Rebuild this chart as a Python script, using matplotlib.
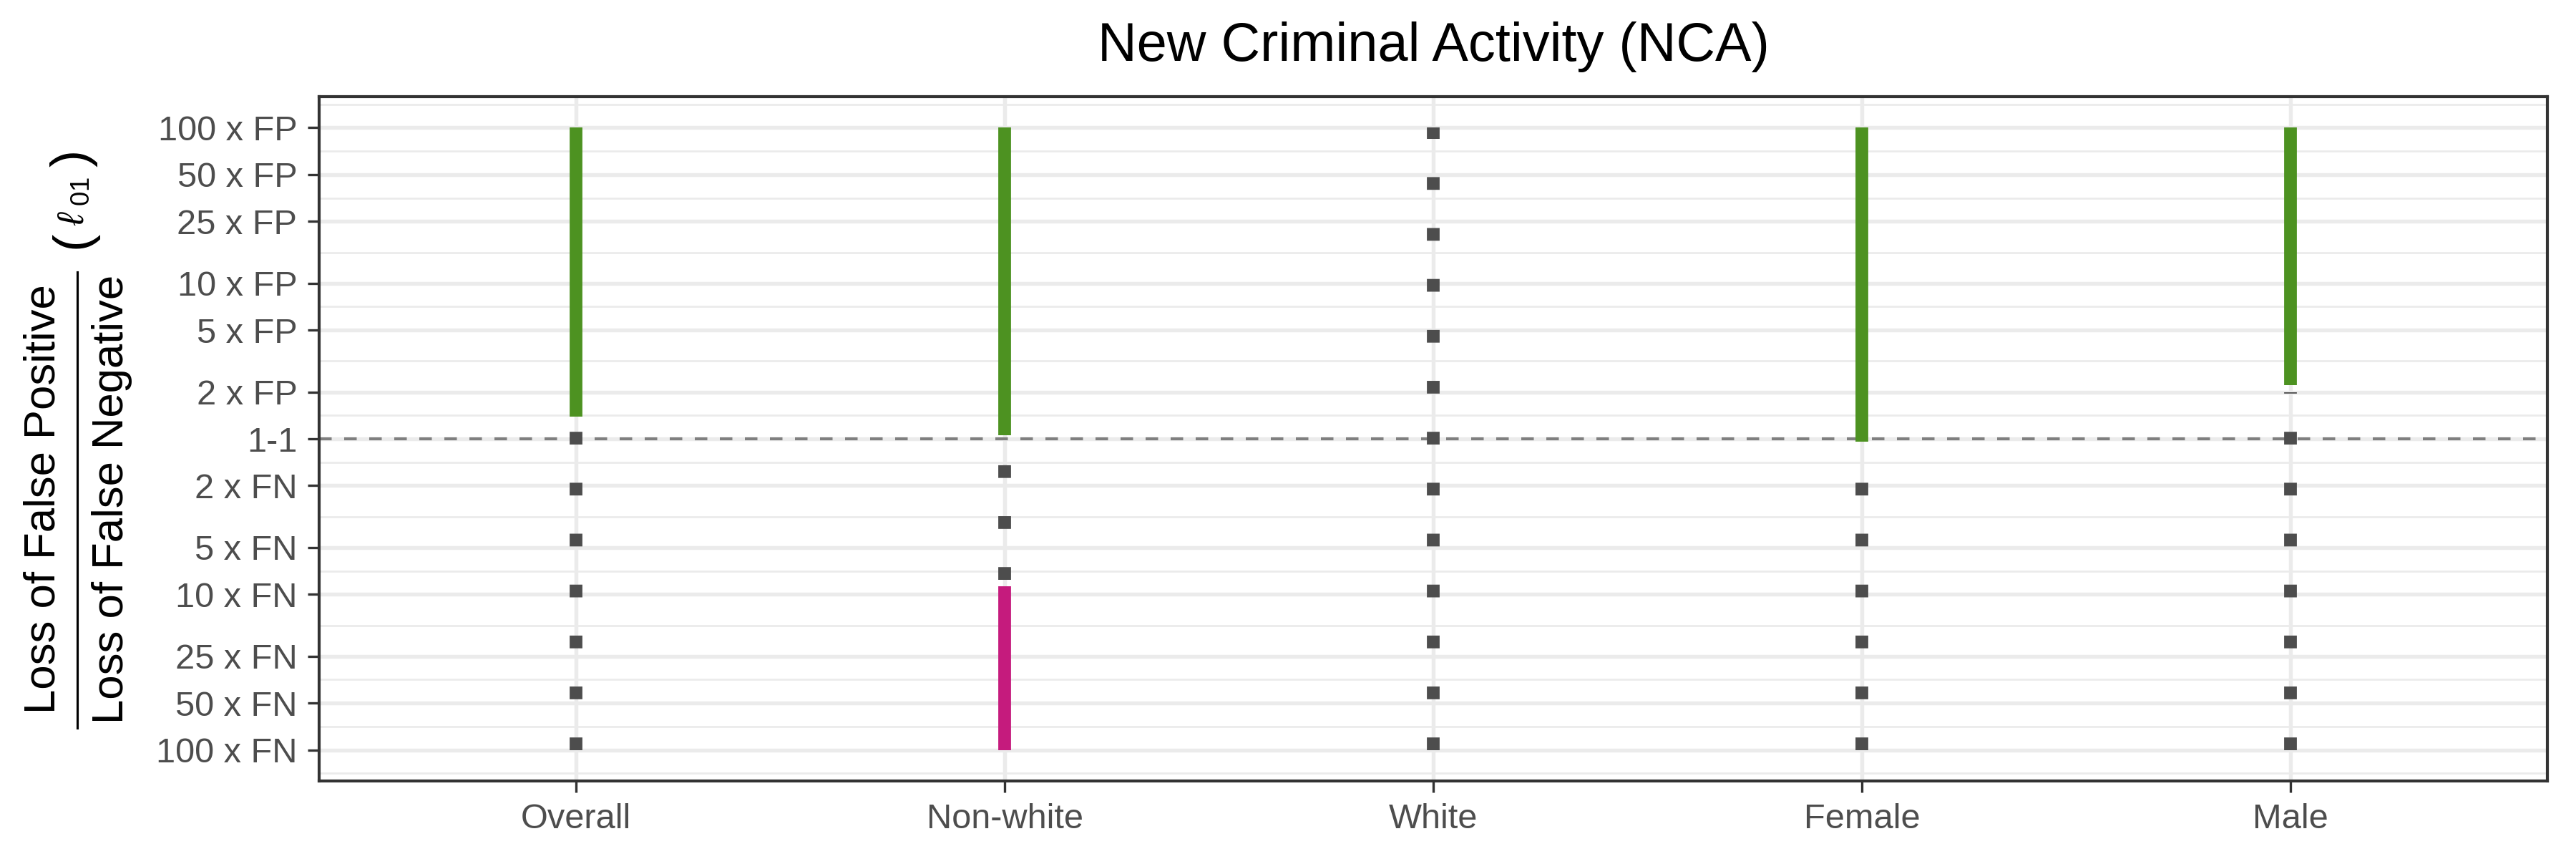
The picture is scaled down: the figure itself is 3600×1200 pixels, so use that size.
import numpy as np
import matplotlib
matplotlib.use("Agg")
import matplotlib.pyplot as plt
from matplotlib.lines import Line2D
from matplotlib.ticker import FixedLocator, NullFormatter

plt.rcParams['font.family'] = ['Liberation Sans', 'DejaVu Sans']
plt.rcParams['mathtext.fontset'] = 'custom'
plt.rcParams['mathtext.rm'] = 'Liberation Sans'
plt.rcParams['mathtext.it'] = 'Liberation Sans:italic'
plt.rcParams['mathtext.fallback'] = 'stixsans'

# ratio = loss(FP) / loss(FN)
groups = ["Overall", "Non-white", "White", "Female", "Male"]
green_lo = [1.39, 1.06, np.nan, 0.962, 2.21]
green_hi = [100, 100, np.nan, 100, 100]
pink_lo = [np.nan, 0.01, np.nan, np.nan, np.nan]
pink_hi = [np.nan, 0.113, np.nan, np.nan, np.nan]
grey_lo = [0.01, 0.124, 0.01, 0.01, 0.01]
grey_hi = [1.27, 0.962, 100, 0.877, 2.0]

tick_vals = [100, 50, 25, 10, 5, 2, 1, 1/2, 1/5, 1/10, 1/25, 1/50, 1/100]
tick_labels = ["100 x FP", "50 x FP", "25 x FP", "10 x FP", "5 x FP", "2 x FP", "1-1",
               "2 x FN", "5 x FN", "10 x FN", "25 x FN", "50 x FN", "100 x FN"]

W, H = 3600, 1200
fig = plt.figure(figsize=(12, 4), dpi=300)
ax = fig.add_axes([0.1239, 0.0908, 0.865, 0.7967])
ax.set_yscale('log')
ax.set_ylim(100 ** -1.1, 100 ** 1.1)
ax.set_xlim(0.4, 5.6)

# gridlines (major at breaks, minor half-way between, ggplot style)
lt = np.sort(np.log(tick_vals))
mids = (lt[:-1] + lt[1:]) / 2
mids = np.concatenate([[lt[0] - (lt[1] - lt[0]) / 2], mids, [lt[-1] + (lt[-1] - lt[-2]) / 2]])
ax.yaxis.set_major_locator(FixedLocator(tick_vals))
ax.set_yticklabels(tick_labels)
ax.yaxis.set_minor_locator(FixedLocator(np.exp(mids)))
ax.yaxis.set_minor_formatter(NullFormatter())
ax.set_xticks(range(1, len(groups) + 1))
ax.set_xticklabels(groups)

ax.set_axisbelow(True)
ax.grid(which='major', color='#EBEBEB', lw=1.3)
ax.grid(which='minor', axis='y', color='#EBEBEB', lw=0.65)

ax.axhline(1, color='#7F7F7F', lw=1.0, linestyle=(0, (4.2, 4.2)), zorder=1.5)

lw = 4.27
for i, g in enumerate(groups):
    x = i + 1
    if not np.isnan(grey_lo[i]):
        ax.plot([x, x], [grey_lo[i], grey_hi[i]], color='#4D4D4D', lw=lw,
                linestyle=(0, (1, 3)), dash_capstyle='butt', zorder=2)
    if not np.isnan(green_lo[i]):
        ax.plot([x, x], [green_lo[i], green_hi[i]], color='#4D9221', lw=lw,
                solid_capstyle='butt', zorder=3)
    if not np.isnan(pink_lo[i]):
        ax.plot([x, x], [pink_lo[i], pink_hi[i]], color='#C51B7D', lw=lw,
                solid_capstyle='butt', zorder=3)

ax.tick_params(axis='both', which='major', length=3.84, width=0.8, color='#333333',
               labelcolor='#4D4D4D', labelsize=11.7, pad=3.5)
ax.tick_params(axis='y', which='minor', length=0)
for s in ax.spines.values():
    s.set_color('#333333')
    s.set_linewidth(1.0)

ax.set_title("New Criminal Activity (NCA)", fontsize=18.2, pad=12)

# y label: fraction + (l_01), built from pieces (pixel positions / figure size)
fy = 1 - 697 / H
fig.text(77 / W, fy, "Loss of False Positive", rotation=90, rotation_mode='anchor',
         ha='center', va='baseline', fontsize=14.8)
fig.text(172 / W, fy, "Loss of False Negative", rotation=90, rotation_mode='anchor',
         ha='center', va='baseline', fontsize=14.8)
fig.add_artist(Line2D([108 / W, 108 / W], [1 - 380 / H, 1 - 1017 / H],
                      color='black', lw=0.75, transform=fig.transFigure))
fig.text(117 / W, 1 - 281 / H, r"$\ell_{\ 01}$", rotation=90, rotation_mode='anchor',
         ha='center', va='baseline', fontsize=12.5)
fig.text(103 / W, 1 - 335 / H, "(", rotation=90, ha='center', va='center',
         fontsize=17.5, fontweight='light')
fig.text(103 / W, 1 - 221 / H, ")", rotation=90, ha='center', va='center',
         fontsize=17.5, fontweight='light')

fig.savefig("out.png", dpi=300)
